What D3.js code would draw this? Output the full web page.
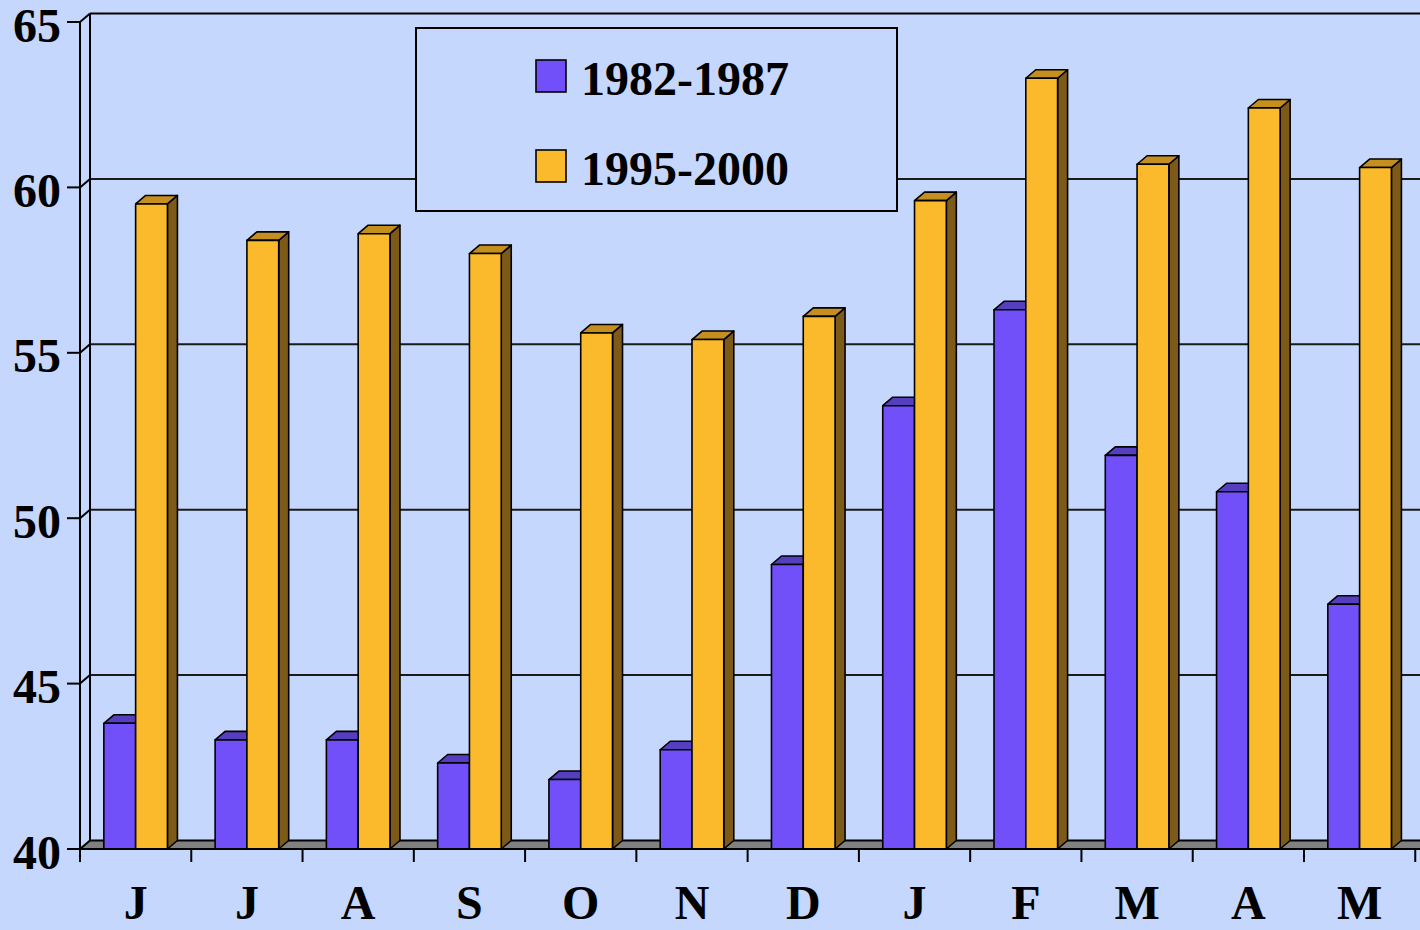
<!DOCTYPE html>
<html>
<head>
<meta charset="utf-8">
<script src="https://cdn.jsdelivr.net/npm/d3@7"></script>
<style>
  html, body { margin: 0; padding: 0; background: #c5d7fd; }
  svg { display: block; }
  text { font-family: "Liberation Serif", "Times New Roman", serif; font-weight: bold; fill: #000; }
</style>
</head>
<body>
<svg id="chart" width="1420" height="930"></svg>
<script>
// Month initials along the category axis (June through May)
const months = ["J", "J", "A", "S", "O", "N", "D", "J", "F", "M", "A", "M"];
const seriesNames = ["1982-1987", "1995-2000"];
const values1982 = [43.8, 43.3, 43.3, 42.6, 42.1, 43.0, 48.6, 53.4, 56.3, 51.9, 50.8, 47.4];
const values1995 = [59.5, 58.4, 58.6, 58.0, 55.6, 55.4, 56.1, 59.6, 63.3, 60.7, 62.4, 60.6];
const yTicks = [40, 45, 50, 55, 60, 65];

const W = 1420, H = 930;
const bg = "#c5d7fd";
const faces = {
  "1982-1987": { front: "#7150f9", top: "#563fbf", side: "#3d2c8c" },
  "1995-2000": { front: "#fbba2b", top: "#c58f1f", side: "#7d5a17" }
};

// 3D depth offset of the back wall relative to the front plane
const dx = 10, dy = -8.5;

const svg = d3.select("#chart");
svg.append("rect").attr("width", W).attr("height", H).attr("fill", bg);

const y = d3.scaleLinear().domain([40, 65]).range([849, 22]);
const x = d3.scaleBand().domain(d3.range(months.length)).range([80, 1415.25]).padding(0);
const xs = d3.scaleBand().domain(seriesNames).range([0, x.bandwidth()]).paddingInner(0).paddingOuter(0.75);

const rows = months.map((m, i) => ({ i, m, vals: { "1982-1987": values1982[i], "1995-2000": values1995[i] } }));

const y0 = y(40);
const left = x.range()[0];

// Back wall outline and gridlines
const g = svg.append("g");
g.append("line").attr("x1", left + dx).attr("x2", W + 20)
  .attr("y1", y(65) + dy).attr("y2", y(65) + dy)
  .attr("stroke", "#000").attr("stroke-width", 2);
g.selectAll("line.grid").data(yTicks.filter(t => t > 40 && t < 65)).join("line")
  .attr("class", "grid")
  .attr("x1", left + dx).attr("x2", W + 20)
  .attr("y1", d => y(d) + dy).attr("y2", d => y(d) + dy)
  .attr("stroke", "#1a1a1a").attr("stroke-width", 2);
// Gridlines across the side wall
g.selectAll("line.sgrid").data(yTicks.filter(t => t > 40)).join("line")
  .attr("class", "sgrid")
  .attr("x1", left).attr("x2", left + dx)
  .attr("y1", d => y(d)).attr("y2", d => y(d) + dy)
  .attr("stroke", "#000").attr("stroke-width", 2);
g.append("line").attr("x1", left + dx).attr("x2", left + dx)
  .attr("y1", y(65) + dy).attr("y2", y0 + dy)
  .attr("stroke", "#000").attr("stroke-width", 2);

// Floor
g.append("path")
  .attr("d", `M${left},${y0} L${W + 20},${y0} L${W + 20 + dx},${y0 + dy} L${left + dx},${y0 + dy} Z`)
  .attr("fill", "#808080").attr("stroke", "#000").attr("stroke-width", 2);

// Bars
const bars = svg.append("g");
rows.forEach(r => {
  seriesNames.forEach(s => {
    const bx = x(r.i) + xs(s);
    const bw = xs.bandwidth();
    const yt = y(r.vals[s]);
    const c = faces[s];
    const b = bars.append("g").attr("stroke", "#000").attr("stroke-width", 1.6).attr("stroke-linejoin", "round");
    b.append("path")
      .attr("d", `M${bx + bw},${yt} L${bx + bw + dx},${yt + dy} L${bx + bw + dx},${y0 + dy} L${bx + bw},${y0} Z`)
      .attr("fill", c.side);
    b.append("path")
      .attr("d", `M${bx},${yt} L${bx + bw},${yt} L${bx + bw + dx},${yt + dy} L${bx + dx},${yt + dy} Z`)
      .attr("fill", c.top);
    b.append("rect").attr("x", bx).attr("y", yt).attr("width", bw).attr("height", y0 - yt)
      .attr("fill", c.front);
  });
});

// Value axis (front edge)
const ax = svg.append("g");
ax.append("line").attr("x1", left).attr("x2", left).attr("y1", y(65)).attr("y2", y0 + 13)
  .attr("stroke", "#000").attr("stroke-width", 2);
ax.selectAll("line.tick").data(yTicks).join("line")
  .attr("class", "tick")
  .attr("x1", left - 13).attr("x2", left)
  .attr("y1", d => y(d)).attr("y2", d => y(d))
  .attr("stroke", "#000").attr("stroke-width", 2);
ax.selectAll("text").data(yTicks).join("text")
  .attr("x", 61).attr("y", d => y(d) + 3)
  .attr("text-anchor", "end").attr("dominant-baseline", "central")
  .attr("font-size", 48)
  .text(d => d);

// Category axis (front edge)
const cx = svg.append("g");
cx.append("line").attr("x1", left).attr("x2", W + 20).attr("y1", y0).attr("y2", y0)
  .attr("stroke", "#000").attr("stroke-width", 2);
cx.selectAll("line.tick").data(d3.range(months.length + 1)).join("line")
  .attr("class", "tick")
  .attr("x1", i => left + i * x.step()).attr("x2", i => left + i * x.step())
  .attr("y1", y0).attr("y2", y0 + 13)
  .attr("stroke", "#000").attr("stroke-width", 2);
cx.selectAll("text").data(rows).join("text")
  .attr("x", d => x(d.i) + x.bandwidth() / 2)
  .attr("y", 919)
  .attr("text-anchor", "middle")
  .attr("font-size", 48)
  .text(d => d.m);

// Legend
const lg = svg.append("g");
lg.append("rect").attr("x", 416).attr("y", 28).attr("width", 481).attr("height", 183)
  .attr("fill", bg).attr("stroke", "#000").attr("stroke-width", 2);
seriesNames.forEach((s, k) => {
  const top = 60 + k * 90;
  lg.append("rect").attr("x", 536).attr("y", top).attr("width", 30).attr("height", 32)
    .attr("fill", faces[s].front).attr("stroke", "#000").attr("stroke-width", 1.6);
  lg.append("text").attr("x", 581).attr("y", top + 35)
    .attr("font-size", 48).text(s);
});
</script>
</body>
</html>
